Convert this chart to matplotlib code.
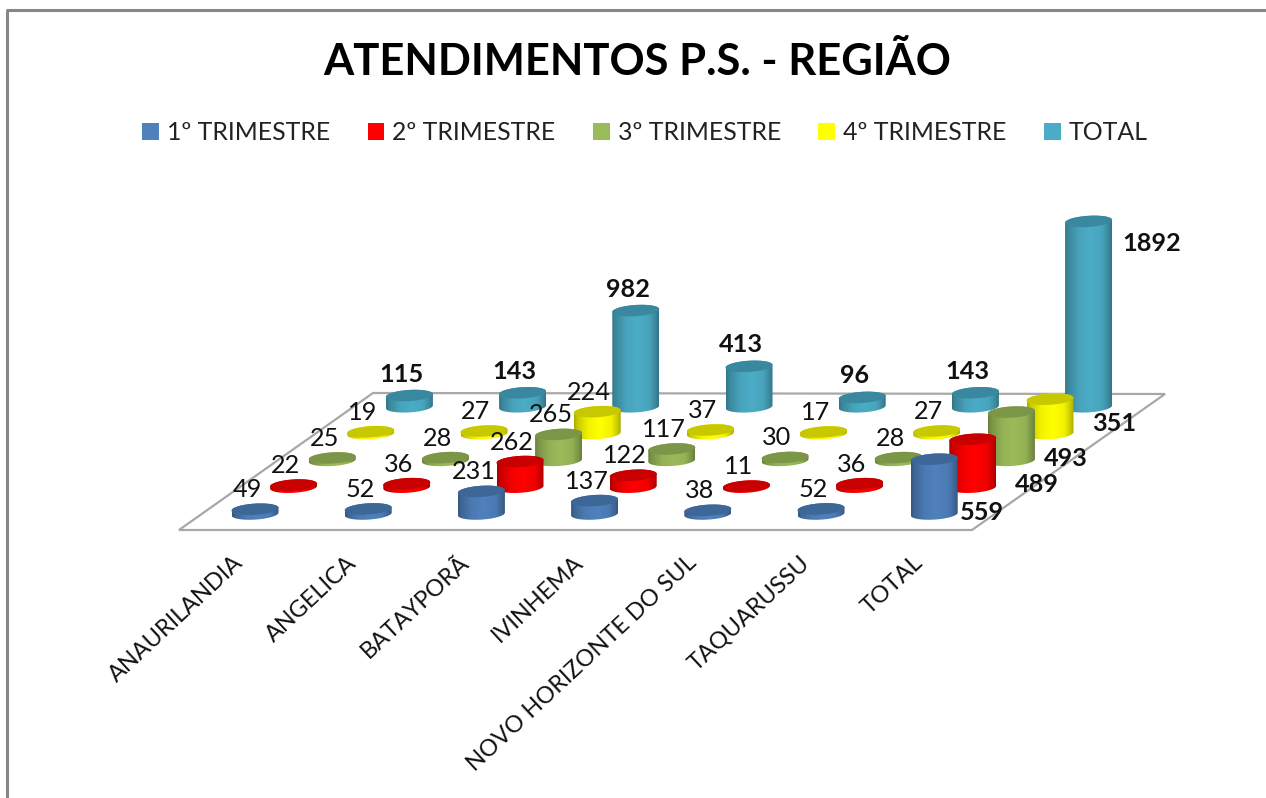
import numpy as np
import matplotlib
matplotlib.use("Agg")
import matplotlib.pyplot as plt
from matplotlib.patches import Patch, PathPatch, Polygon
from matplotlib.path import Path

plt.rcParams['font.family'] = ['Lato', 'DejaVu Sans']

title = "ATENDIMENTOS P.S. - REGIÃO"
categories = ["ANAURILANDIA", "ANGELICA", "BATAYPORÃ", "IVINHEMA",
              "NOVO HORIZONTE DO SUL", "TAQUARUSSU", "TOTAL"]
series_names = ["1º TRIMESTRE", "2º TRIMESTRE", "3º TRIMESTRE", "4º TRIMESTRE", "TOTAL"]
trim1 = [49, 52, 231, 137, 38, 52, 559]
trim2 = [22, 36, 262, 122, 11, 36, 489]
trim3 = [25, 28, 265, 117, 30, 28, 493]
trim4 = [19, 27, 224, 37, 17, 27, 351]
total = [115, 143, 982, 413, 96, 143, 1892]
series = [trim1, trim2, trim3, trim4, total]

body_colors = ["#4f81bd", "#ff0000", "#9bbb59", "#ffff00", "#4bacc6"]
top_colors = ["#3c6797", "#c80000", "#7c9648", "#c8c800", "#3a88a0"]

# projection of the pseudo-3D scene, in figure pixels
X0, CAT_DX, SER_DX = 255.0, 113.2, 38.6
Y0, SER_DY = 514.0, 26.8
PX_PER_UNIT = 0.098
RX, RY, SHEAR = 23.5, 5.6, 0.06


def base(cat, ser):
    return X0 + cat * CAT_DX + ser * SER_DX, Y0 - ser * SER_DY


fig = plt.figure(figsize=(12.66, 7.98), dpi=100, facecolor="white")
ax = fig.add_axes([0, 0, 1, 1])
ax.set_xlim(0, 1266)
ax.set_ylim(798, 0)
ax.axis("off")
ax.autoscale(False)

# outer chart frame
ax.plot([7, 7], [798, 10], color="#868686", lw=2.2, solid_capstyle="butt", zorder=1)
ax.plot([6, 1266], [10, 10], color="#868686", lw=2.2, solid_capstyle="butt", zorder=1)

# floor
ax.add_patch(Polygon([(179, 530), (972, 530), (1165, 394), (373, 393)], closed=True,
                     facecolor="white", edgecolor="#a8a8a8", lw=1.6, zorder=2))

T = np.linspace(0, 2 * np.pi, 73)


def ellipse(cx, cy, t):
    return np.column_stack([cx + RX * np.cos(t), cy + RY * np.sin(t) - SHEAR * RX * np.cos(t)])


def cylinder(cx, cy, h, body, top, z):
    low = ellipse(cx, cy, np.linspace(np.pi, 0, 37))     # lower rim, left to right
    up = ellipse(cx, cy - h, np.linspace(0, -np.pi, 37))  # upper rim, right to left
    pts = np.vstack([low, up, low[:1]])
    clip = PathPatch(Path(pts), facecolor="none", edgecolor="none", transform=ax.transData)
    ax.add_patch(clip)
    rgb = np.array(matplotlib.colors.to_rgb(body))
    u = np.linspace(0, 1, 64)
    shade = np.interp(u, [0, 0.06, 0.3, 0.55, 0.8, 0.94, 1], [0.68, 0.78, 0.95, 1.0, 0.95, 0.78, 0.68])
    img = (rgb[None, None, :] * shade[None, :, None]).clip(0, 1)
    im = ax.imshow(img, extent=[cx - RX, cx + RX, cy + RY + 4, cy - h - RY - 4], aspect="auto",
                   interpolation="bilinear", zorder=z)
    im.set_clip_path(clip)
    ax.add_patch(Polygon(ellipse(cx, cy - h, T), closed=True, facecolor=top,
                         edgecolor="none", zorder=z + 0.1))


z = 3.0
for s in range(len(series) - 1, -1, -1):
    for c, v in enumerate(series[s]):
        bx, by = base(c, s)
        cylinder(bx, by, v * PX_PER_UNIT, body_colors[s], top_colors[s], z)
        z += 0.2

# data labels
LABEL_DX = -8
label_dy = [-19.5, -19.5, -19.5, -19.5, -21.5]
last_offsets = [(48, -1), (64, -3), (54, -2), (64, -10), (63, -163)]
for s, vals in enumerate(series):
    for c, v in enumerate(vals):
        bx, by = base(c, s)
        last = c == len(vals) - 1
        if last:
            dx, dy = last_offsets[s]
            tx, ty = bx + dx, by + dy
        else:
            tx, ty = bx + LABEL_DX, by - v * PX_PER_UNIT + label_dy[s]
        bold = last or s == len(series) - 1
        ax.text(tx, ty, str(v), ha="center", va="center", fontsize=18.2, color="#111111",
                fontweight="bold" if bold else "normal", zorder=50)

# category labels
for c, name in enumerate(categories):
    bx, _ = base(c, 0)
    ax.text(bx - 22, 552, name, rotation=43, rotation_mode="anchor", ha="right", va="top",
            fontsize=16.9, color="#111111", zorder=50)

ax.text(637, 62, title, ha="center", va="center", fontsize=31.3, fontweight="bold",
        color="black", zorder=50)

handles = [Patch(facecolor=col, edgecolor="none", label=n) for col, n in zip(body_colors, series_names)]
ax.legend(handles=handles, loc="center", bbox_to_anchor=(645, 133), bbox_transform=ax.transData,
          ncols=5, frameon=False, fontsize=17.9, handlelength=0.68, handleheight=0.68,
          handletextpad=0.32, columnspacing=1.5, labelcolor="#222222")

fig.savefig("out.png", dpi=100, facecolor="white")
